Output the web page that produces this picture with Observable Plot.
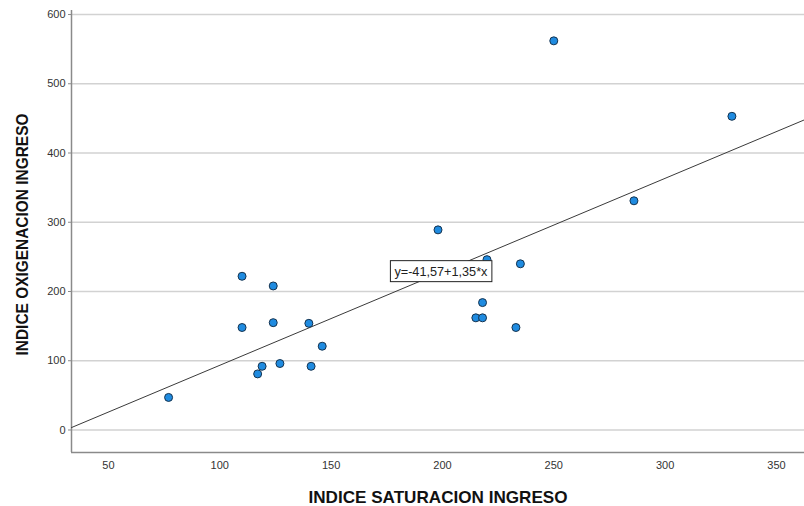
<!DOCTYPE html>
<html>
<head>
<meta charset="utf-8">
<script src="https://cdn.jsdelivr.net/npm/d3@7"></script>
<script src="https://cdn.jsdelivr.net/npm/@observablehq/plot@0.6"></script>
<style>
  html, body { margin: 0; padding: 0; background: #fff; }
  svg { display: block; }
</style>
</head>
<body>
<script>
// ---- data ----
const saturacion = [77, 110, 124, 110, 124, 140, 146, 119, 117, 127, 141, 220, 235, 218, 215, 218, 233, 250, 330, 286, 198];
const oxigenacion = [47, 222, 208, 148, 155, 154, 121, 92, 81, 96, 92, 246, 240, 184, 162, 162, 148, 562, 453, 331, 289];
const intercept = -41.57;
const slope = 1.35;
const equationText = ["y=-41,57+1,35*x"];
const equationPos = [199.3, 228.9];
const xTicks = [50, 100, 150, 200, 250, 300, 350];
const yTicks = [0, 100, 200, 300, 400, 500, 600];
const xDomain = [33.4, 362.6];
const yDomain = [-32.5, 605.8];
const xLabel = "INDICE SATURACION INGRESO";
const yLabel = "INDICE OXIGENACION INGRESO";

const points = saturacion.map((x, i) => ({x, y: oxigenacion[i]}));
const fitLine = xDomain.map(x => ({x, y: intercept + slope * x}));

const font = "'Liberation Sans', Arial, Helvetica, sans-serif";

const chart = Plot.plot({
  width: 804,
  height: 506,
  marginLeft: 71,
  marginRight: 0,
  marginTop: 10,
  marginBottom: 54,
  style: {fontFamily: font, background: "#fff"},
  x: {domain: xDomain, ticks: xTicks},
  y: {domain: yDomain, ticks: yTicks},
  marks: [
    Plot.gridY(yTicks, {stroke: "#d2d2d2", strokeOpacity: 1, strokeWidth: 1.5}),
    Plot.ruleX([xDomain[0]], {stroke: "#8a8a8a", strokeWidth: 1.5}),
    Plot.ruleY([yDomain[0]], {stroke: "#8a8a8a", strokeWidth: 1.5}),
    Plot.axisY(yTicks, {tickSize: 3, tickPadding: 3, fontSize: 11, fill: "#333", stroke: "#8a8a8a", label: null}),
    Plot.axisX(xTicks, {tickSize: 0, tickPadding: 9, fontSize: 11, fill: "#333", label: null}),
    Plot.line(fitLine, {x: "x", y: "y", stroke: "#3a3a3a", strokeWidth: 1}),
    Plot.dot(points, {x: "x", y: "y", r: 4, fill: "#1f8be0", stroke: "#15334f", strokeWidth: 1}),
    Plot.text(equationText, {x: () => equationPos[0], y: () => equationPos[1], fontSize: 13, fill: "#222", className: "eqlab"}),
    Plot.text([xLabel], {frameAnchor: "bottom", dy: 50, fontSize: 17, fontWeight: "bold", fill: "#111", className: "xlab"}),
    Plot.text([yLabel], {frameAnchor: "left", textAnchor: "middle", dx: -49, dy: 3, rotate: -90, fontSize: 17, fontWeight: "bold", fill: "#111", className: "ylab"})
  ]
});

document.body.appendChild(chart);

const svg = d3.select(chart);
svg.selectAll(".xlab text").attr("textLength", 259).attr("lengthAdjust", "spacingAndGlyphs");
svg.selectAll(".ylab text").attr("textLength", 242).attr("lengthAdjust", "spacingAndGlyphs");
svg.selectAll(".eqlab text").attr("textLength", 93).attr("lengthAdjust", "spacingAndGlyphs");

// box behind the regression equation
svg.selectAll(".eqlab text").each(function() {
  const bb = this.getBBox();
  const g = this.parentNode;
  const padX = 4, padY = 3;
  d3.select(g).insert("rect", "text")
    .attr("transform", this.getAttribute("transform"))
    .attr("x", bb.x - padX)
    .attr("y", bb.y - padY)
    .attr("width", bb.width + 2 * padX)
    .attr("height", bb.height + 2 * padY)
    .attr("fill", "#fff")
    .attr("stroke", "#222")
    .attr("stroke-width", 1);
});
</script>
</body>
</html>
